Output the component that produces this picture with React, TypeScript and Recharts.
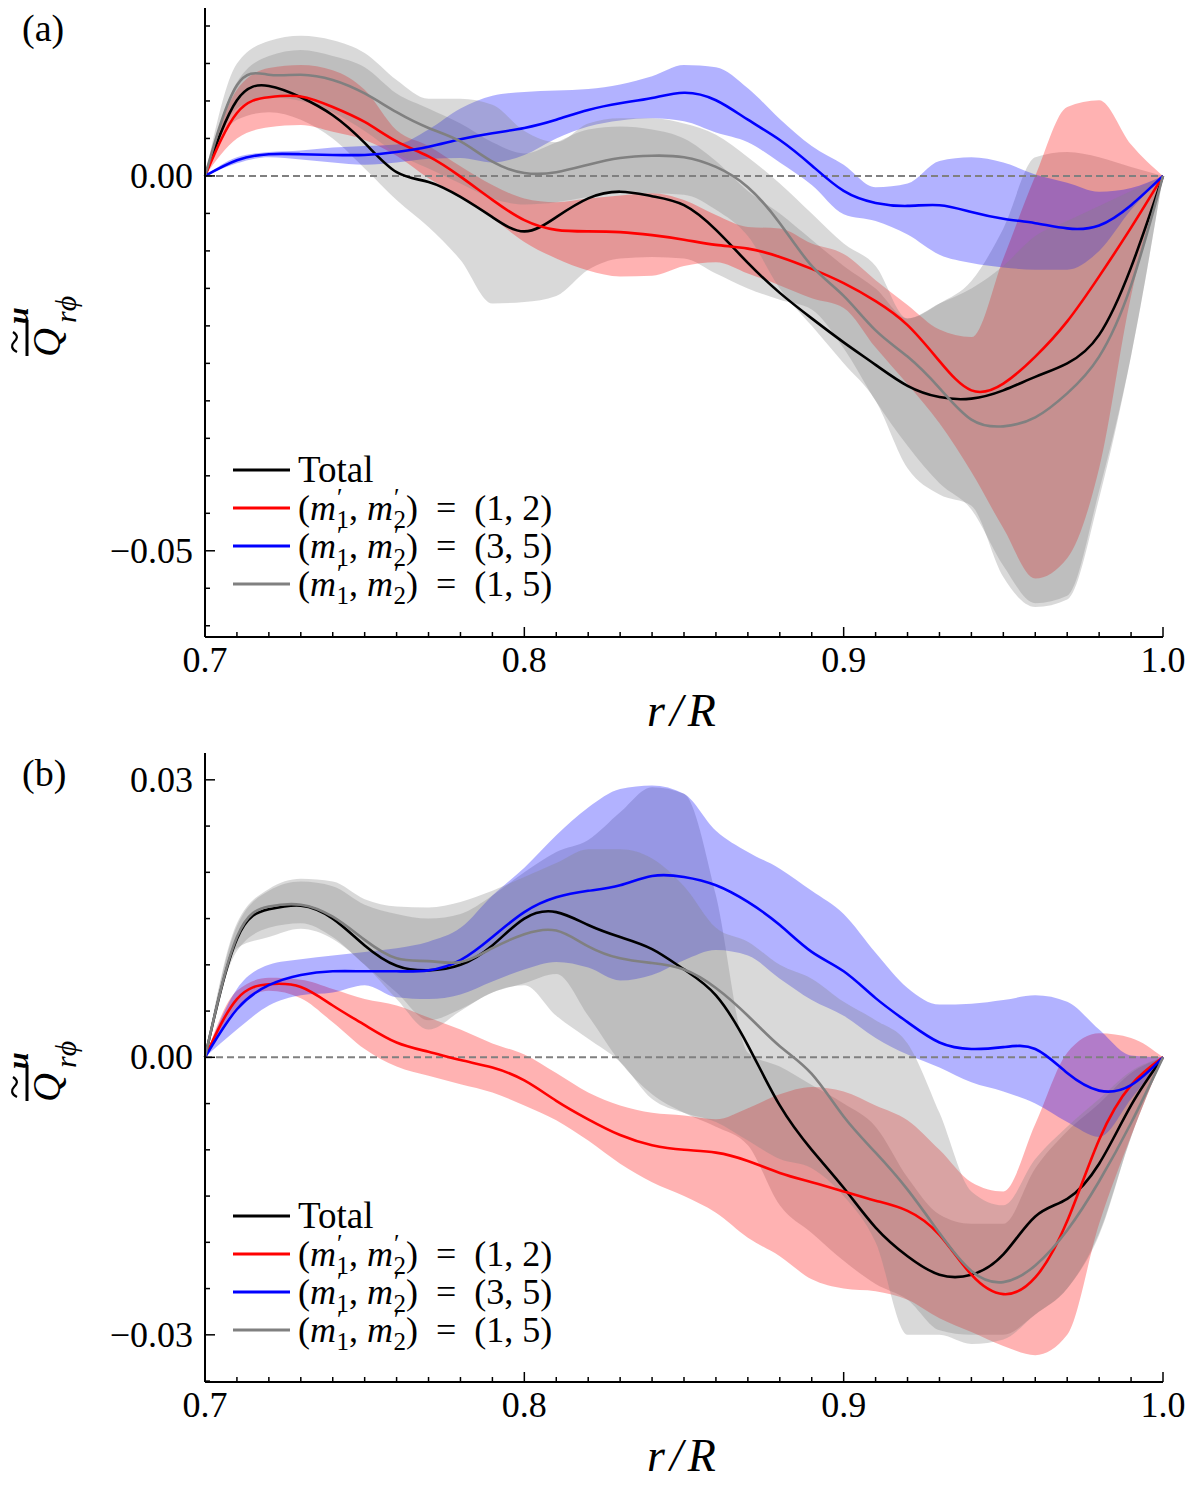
import React from 'react'
import { ComposedChart, Area, Line, XAxis, YAxis, ReferenceLine, Legend } from 'recharts'

const FONT = "'Liberation Serif', 'Times New Roman', serif"

// radius r/R, one sample every 0.01
const rValues = [
  0.7, 0.71, 0.72, 0.73, 0.74, 0.75, 0.76, 0.77, 0.78, 0.79, 0.8, 0.81, 0.82, 0.83, 0.84, 0.85,
  0.86, 0.87, 0.88, 0.89, 0.9, 0.91, 0.92, 0.93, 0.94, 0.95, 0.96, 0.97, 0.98, 0.99, 1.0,
]
const xMajor = [0.7, 0.8, 0.9, 1.0]
const xTickLabels = ['0.7', '0.8', '0.9', '1.0']

const yTicksA = [
  -0.06, -0.055, -0.05, -0.045, -0.04, -0.035, -0.03, -0.025, -0.02, -0.015, -0.01, -0.005, 0,
  0.005, 0.01, 0.015, 0.02,
]
const yMajorA = [-0.05, 0]
const yTickLabelsA = ['−0.05', '0.00']

const yTicksB = [
  -0.035, -0.03, -0.025, -0.02, -0.015, -0.01, -0.005, 0, 0.005, 0.01, 0.015, 0.02, 0.025, 0.03,
]
const yMajorB = [-0.03, 0, 0.03]
const yTickLabelsB = ['−0.03', '0.00', '0.03']

// ---- panel (a) ----
const totalA = [0, 0.0101, 0.012, 0.0105, 0.0081, 0.0044, 0.0005, -0.0008, -0.0028, -0.0055, -0.0074, -0.0055, -0.003, -0.0021, -0.0027, -0.0039, -0.0072, -0.0116, -0.0156, -0.019, -0.0222, -0.0252, -0.028, -0.0295, -0.0297, -0.0286, -0.0268, -0.025, -0.0212, -0.0122, 0]
const totalLoA = [0, 0.0075, 0.0085, 0.0075, 0.005, 0.001, -0.0032, -0.0068, -0.0112, -0.017, -0.0168, -0.016, -0.0125, -0.011, -0.0108, -0.011, -0.013, -0.015, -0.0165, -0.0178, -0.023, -0.03, -0.036, -0.041, -0.0445, -0.052, -0.057, -0.056, -0.042, -0.024, 0]
const totalHiA = [0, 0.0125, 0.016, 0.0168, 0.016, 0.0145, 0.011, 0.009, 0.007, 0.0045, 0.003, 0.0045, 0.0062, 0.0066, 0.0062, 0.005, 0.002, -0.002, -0.005, -0.0085, -0.012, -0.015, -0.019, -0.017, -0.014, -0.007, 0.0025, 0.0032, 0.0025, 0.0012, 0]

const redA = [0, 0.0084, 0.0105, 0.0106, 0.0092, 0.0072, 0.0046, 0.0026, -0.0001, -0.0032, -0.0059, -0.0072, -0.0074, -0.0075, -0.0079, -0.0085, -0.0092, -0.0097, -0.0108, -0.0124, -0.0143, -0.0167, -0.0199, -0.0247, -0.0286, -0.0277, -0.0241, -0.0194, -0.0134, -0.0069, 0]
const redLoA = [0, 0.005, 0.0065, 0.0068, 0.0059, 0.0048, 0.0027, -0.0003, -0.0027, -0.0056, -0.0088, -0.011, -0.0126, -0.0134, -0.0133, -0.012, -0.0115, -0.013, -0.0146, -0.0163, -0.0176, -0.0229, -0.0278, -0.033, -0.0395, -0.047, -0.0537, -0.051, -0.039, -0.016, 0]
const redHiA = [0, 0.0115, 0.0144, 0.0148, 0.0141, 0.0115, 0.0061, 0.004, 0.0013, -0.0012, -0.003, -0.0035, -0.003, -0.0026, -0.0023, -0.0032, -0.0052, -0.0068, -0.007, -0.009, -0.0104, -0.0139, -0.0172, -0.0205, -0.0215, -0.011, 0.0, 0.0092, 0.0101, 0.0042, 0]

const blueA = [0, 0.0021, 0.0029, 0.0029, 0.0028, 0.0028, 0.0032, 0.0039, 0.0049, 0.0057, 0.0064, 0.0075, 0.0088, 0.0097, 0.0104, 0.0111, 0.0101, 0.0075, 0.0048, 0.0014, -0.002, -0.0036, -0.004, -0.0039, -0.0048, -0.0057, -0.0063, -0.007, -0.0066, -0.0039, 0]
const blueLoA = [0, 0.0017, 0.0025, 0.0022, 0.0018, 0.0015, 0.0018, 0.0023, 0.0024, 0.0018, 0.0028, 0.005, 0.0066, 0.0074, 0.0077, 0.0073, 0.0058, 0.0045, 0.0018, -0.0012, -0.0051, -0.006, -0.0078, -0.0105, -0.0116, -0.0122, -0.0125, -0.0125, -0.01, -0.0045, 0]
const blueHiA = [0, 0.0025, 0.0032, 0.0034, 0.0038, 0.004, 0.0042, 0.0062, 0.009, 0.0107, 0.0112, 0.0114, 0.0116, 0.0122, 0.0133, 0.0148, 0.0145, 0.0117, 0.0076, 0.004, 0.0015, -0.0015, -0.001, 0.002, 0.0025, 0.0018, 0.0002, -0.0009, -0.0021, -0.0016, 0]

const grayA = [0, 0.0121, 0.0135, 0.0135, 0.0128, 0.011, 0.0085, 0.0064, 0.0046, 0.0019, 0.0004, 0.0005, 0.0015, 0.0024, 0.0027, 0.0025, 0.0012, -0.0015, -0.0063, -0.012, -0.016, -0.0206, -0.0241, -0.0283, -0.0325, -0.0334, -0.0322, -0.029, -0.0241, -0.0146, 0]
const grayLoA = [0, 0.009, 0.0105, 0.01, 0.0085, 0.006, 0.003, 0.001, -0.001, -0.003, -0.0038, -0.0035, -0.0028, -0.0023, -0.0023, -0.0025, -0.0045, -0.008, -0.015, -0.02, -0.025, -0.03, -0.039, -0.0425, -0.044, -0.0535, -0.0575, -0.0565, -0.043, -0.024, 0]
const grayHiA = [0, 0.015, 0.018, 0.0187, 0.0181, 0.0164, 0.0128, 0.0103, 0.0103, 0.0095, 0.006, 0.0045, 0.007, 0.0077, 0.0077, 0.007, 0.0055, 0.0025, -0.001, -0.005, -0.009, -0.012, -0.019, -0.017, -0.015, -0.012, -0.008, -0.006, -0.004, -0.002, 0]

// ---- panel (b) ----
const totalB = [0, 0.0128, 0.016, 0.0164, 0.015, 0.0121, 0.0099, 0.0094, 0.01, 0.0121, 0.015, 0.0157, 0.0143, 0.013, 0.0117, 0.0095, 0.0067, 0.0013, -0.0052, -0.01, -0.0141, -0.0184, -0.0215, -0.0235, -0.0235, -0.0213, -0.0172, -0.0153, -0.0115, -0.0052, 0]
const totalLoB = [0, 0.0115, 0.014, 0.0145, 0.013, 0.01, 0.007, 0.004, 0.0052, 0.007, 0.008, 0.009, 0.0045, -0.0005, -0.004, -0.006, -0.0075, -0.0095, -0.016, -0.019, -0.022, -0.0245, -0.0262, -0.0295, -0.03, -0.03, -0.0278, -0.025, -0.0192, -0.0086, 0]
const totalHiB = [0, 0.0142, 0.018, 0.019, 0.0185, 0.0165, 0.0155, 0.015, 0.0155, 0.0175, 0.02, 0.0222, 0.0235, 0.0265, 0.0292, 0.0285, 0.0175, 0.0005, -0.001, -0.003, -0.005, -0.0075, -0.013, -0.017, -0.018, -0.018, -0.012, -0.008, -0.005, -0.0017, 0]

const redB = [0, 0.0063, 0.0079, 0.0076, 0.0056, 0.0035, 0.0016, 0.0006, -0.0003, -0.0011, -0.0025, -0.0047, -0.0067, -0.0084, -0.0095, -0.01, -0.0103, -0.0112, -0.0125, -0.0135, -0.0145, -0.0155, -0.0166, -0.0192, -0.0235, -0.0256, -0.0238, -0.0177, -0.0089, -0.003, 0]
const redLoB = [0, 0.0054, 0.0072, 0.0064, 0.0038, 0.0009, -0.001, -0.002, -0.0029, -0.0038, -0.0052, -0.0068, -0.009, -0.0115, -0.0135, -0.015, -0.0168, -0.0195, -0.0215, -0.024, -0.025, -0.0253, -0.0262, -0.0282, -0.0297, -0.0312, -0.0322, -0.03, -0.018, -0.0085, 0]
const redHiB = [0, 0.0072, 0.0086, 0.0084, 0.0074, 0.0063, 0.0056, 0.0043, 0.003, 0.0015, 0.0003, -0.0017, -0.0038, -0.0052, -0.006, -0.0063, -0.0067, -0.0055, -0.004, -0.0032, -0.0037, -0.0052, -0.0068, -0.01, -0.0135, -0.0145, -0.0072, 0.0005, 0.0026, 0.0021, 0]

const blueB = [0, 0.0052, 0.0078, 0.0089, 0.0093, 0.0093, 0.0093, 0.0094, 0.0105, 0.013, 0.0157, 0.0173, 0.018, 0.0186, 0.0196, 0.0195, 0.0186, 0.0168, 0.0143, 0.0114, 0.0093, 0.0064, 0.0038, 0.0016, 0.0009, 0.0011, 0.0009, -0.0017, -0.0036, -0.003, 0]
const blueLoB = [0, 0.003, 0.0056, 0.0067, 0.007, 0.0078, 0.0065, 0.0063, 0.0068, 0.0082, 0.0095, 0.0103, 0.0097, 0.0083, 0.0089, 0.0105, 0.0116, 0.011, 0.0085, 0.0062, 0.0045, 0.0021, 0.0003, -0.0011, -0.0027, -0.0037, -0.005, -0.007, -0.0086, -0.0045, 0]
const blueHiB = [0, 0.0074, 0.01, 0.0106, 0.011, 0.0114, 0.0118, 0.0125, 0.014, 0.0175, 0.0205, 0.024, 0.027, 0.029, 0.0294, 0.0285, 0.0245, 0.0222, 0.0204, 0.018, 0.0155, 0.0113, 0.0075, 0.0057, 0.0058, 0.0062, 0.0067, 0.006, 0.003, 0.0002, 0]

const grayB = [0, 0.013, 0.0163, 0.0165, 0.0152, 0.0127, 0.0107, 0.0104, 0.0103, 0.0118, 0.0133, 0.0137, 0.012, 0.0107, 0.0102, 0.0095, 0.0075, 0.0045, 0.0012, -0.0018, -0.0064, -0.0103, -0.0143, -0.019, -0.0231, -0.0243, -0.0225, -0.0187, -0.0134, -0.0071, 0]
const grayLoB = [0, 0.0118, 0.013, 0.0139, 0.0128, 0.01, 0.0063, 0.003, 0.005, 0.007, 0.0078, 0.0045, 0.002, -0.0005, -0.0045, -0.006, -0.007, -0.009, -0.011, -0.012, -0.015, -0.02, -0.03, -0.03, -0.031, -0.0305, -0.0278, -0.025, -0.019, -0.0086, 0]
const grayHiB = [0, 0.0145, 0.0182, 0.0193, 0.019, 0.0171, 0.0163, 0.0162, 0.0168, 0.018, 0.0195, 0.021, 0.0225, 0.0225, 0.0215, 0.0185, 0.014, 0.0125, 0.01, 0.0085, 0.006, 0.004, 0.0015, -0.006, -0.0145, -0.016, -0.011, -0.0075, -0.0045, -0.0015, 0]

const seriesOrder = ['total', 'm12', 'm35', 'm15']
const seriesColor: Record<string, string> = {
  total: '#000000',
  m12: '#ff0000',
  m35: '#0000ff',
  m15: '#808080',
}
const seriesPair: Record<string, [string, string] | null> = {
  total: null,
  m12: ['1', '2'],
  m35: ['3', '5'],
  m15: ['1', '5'],
}

type Row = Record<string, number | number[]>

function buildRows(
  total: number[], totalLo: number[], totalHi: number[],
  red: number[], redLo: number[], redHi: number[],
  blue: number[], blueLo: number[], blueHi: number[],
  gray: number[], grayLo: number[], grayHi: number[],
): Row[] {
  return rValues.map((r, i) => ({
    r,
    total: total[i],
    totalBand: [totalLo[i], totalHi[i]],
    m12: red[i],
    m12Band: [redLo[i], redHi[i]],
    m35: blue[i],
    m35Band: [blueLo[i], blueHi[i]],
    m15: gray[i],
    m15Band: [grayLo[i], grayHi[i]],
  }))
}

const rowsA = buildRows(totalA, totalLoA, totalHiA, redA, redLoA, redHiA, blueA, blueLoA, blueHiA, grayA, grayLoA, grayHiA)
const rowsB = buildRows(totalB, totalLoB, totalHiB, redB, redLoB, redHiB, blueB, blueLoB, blueHiB, grayB, grayLoB, grayHiB)

const majorIndex = (v: number, majors: number[]) => majors.findIndex((m) => Math.abs(m - v) < 1e-9)

function makeTick(side: 'bottom' | 'top' | 'left' | 'right', majors: number[], labels?: string[]) {
  return (props: any) => {
    const { x, y, payload } = props
    const i = majorIndex(payload.value, majors)
    const len = i >= 0 ? 10 : 5
    let l = { x1: x, x2: x, y1: y, y2: y - len }
    if (side === 'top') l = { x1: x, x2: x, y1: y, y2: y + len }
    if (side === 'left') l = { x1: x, x2: x + len, y1: y, y2: y }
    if (side === 'right') l = { x1: x, x2: x - len, y1: y, y2: y }
    return (
      <g>
        <line {...l} stroke="#000" strokeWidth={1.5} />
        {labels && i >= 0 && side === 'bottom' && (
          <text x={x} y={y + 35} textAnchor="middle" fontSize={36} fontFamily={FONT} fill="#000">
            {labels[i]}
          </text>
        )}
        {labels && i >= 0 && side === 'left' && (
          <text x={x - 12} y={y} dy="0.33em" textAnchor="end" fontSize={36} fontFamily={FONT} fill="#000">
            {labels[i]}
          </text>
        )}
      </g>
    )
  }
}

// (m'_1, m'_2) = (a, b) as one svg text
function PairText({ x, y, a, b }: { x: number; y: number; a: string; b: string }) {
  return (
    <text x={x} y={y} fontSize={36} fontFamily={FONT} fill="#000">
      (<tspan fontStyle="italic">m</tspan>
      <tspan fontSize={25} dx={1} dy={-14}>′</tspan>
      <tspan fontSize={25} dx={-6} dy={22}>1</tspan>
      <tspan dy={-8}>, </tspan>
      <tspan fontStyle="italic">m</tspan>
      <tspan fontSize={25} dx={1} dy={-14}>′</tspan>
      <tspan fontSize={25} dx={-6} dy={22}>2</tspan>
      <tspan dy={-8}>{`)\u00A0\u00A0=\u00A0\u00A0(${a}, ${b})`}</tspan>
    </text>
  )
}

function LegendBox(props: any) {
  const items = [...(props.payload || [])]
    .filter((p: any) => seriesOrder.includes(p.dataKey))
    .sort((p: any, q: any) => seriesOrder.indexOf(p.dataKey) - seriesOrder.indexOf(q.dataKey))
  return (
    <svg width={340} height={160} style={{ display: 'block', overflow: 'visible' }}>
      {items.map((p: any, i: number) => {
        const cy = 19 + i * 38
        const pair = seriesPair[p.dataKey]
        return (
          <g key={p.dataKey}>
            <line x1={0} x2={57} y1={cy} y2={cy} stroke={seriesColor[p.dataKey]} strokeWidth={3} />
            {pair ? (
              <PairText x={65} y={cy + 12} a={pair[0]} b={pair[1]} />
            ) : (
              <text x={65} y={cy + 12} fontSize={37} fontFamily={FONT} fill="#000">Total</text>
            )}
          </g>
        )
      })}
    </svg>
  )
}

type PanelProps = {
  rows: Row[]
  height: number
  top: number
  bottom: number
  yDomain: [number, number]
  yTicks: number[]
  yMajor: number[]
  yLabels: string[]
  legendTop: number
}

function Panel({ rows, height, top, bottom, yDomain, yTicks, yMajor, yLabels, legendTop }: PanelProps) {
  return (
    <ComposedChart width={1200} height={height} data={rows} margin={{ top, right: 37, bottom: 0, left: 0 }}>
      <XAxis
        dataKey="r"
        type="number"
        domain={[0.7, 1.0]}
        ticks={rValues}
        interval={0}
        height={bottom}
        tickSize={0}
        tickMargin={0}
        tickLine={false}
        axisLine={{ stroke: '#000', strokeWidth: 2 }}
        tick={makeTick('bottom', xMajor, xTickLabels)}
      />
      <XAxis
        xAxisId="top"
        orientation="top"
        dataKey="r"
        type="number"
        domain={[0.7, 1.0]}
        ticks={rValues}
        interval={0}
        height={0}
        tickSize={0}
        tickMargin={0}
        tickLine={false}
        axisLine={{ stroke: '#000', strokeWidth: 2 }}
        tick={makeTick('top', xMajor)}
      />
      <YAxis
        type="number"
        domain={yDomain}
        allowDataOverflow
        ticks={yTicks}
        interval={0}
        width={205}
        tickSize={0}
        tickMargin={0}
        tickLine={false}
        axisLine={{ stroke: '#000', strokeWidth: 2 }}
        tick={makeTick('left', yMajor, yLabels)}
      />
      <YAxis
        yAxisId="right"
        orientation="right"
        type="number"
        domain={yDomain}
        allowDataOverflow
        ticks={yTicks}
        interval={0}
        width={0}
        tickSize={0}
        tickMargin={0}
        tickLine={false}
        axisLine={{ stroke: '#000', strokeWidth: 2 }}
        tick={makeTick('right', yMajor)}
      />
      <Area dataKey="totalBand" type="monotone" stroke="none" fill="#808080" fillOpacity={0.3} legendType="none" isAnimationActive={false} />
      <Area dataKey="m12Band" type="monotone" stroke="none" fill="#ff0000" fillOpacity={0.3} legendType="none" isAnimationActive={false} />
      <Area dataKey="m35Band" type="monotone" stroke="none" fill="#0000ff" fillOpacity={0.3} legendType="none" isAnimationActive={false} />
      <Area dataKey="m15Band" type="monotone" stroke="none" fill="#808080" fillOpacity={0.3} legendType="none" isAnimationActive={false} />
      <ReferenceLine y={0} stroke="#808080" strokeWidth={2} strokeDasharray="7 4" />
      {seriesOrder.map((k) => (
        <Line
          key={k}
          dataKey={k}
          name={k}
          type="natural"
          stroke={seriesColor[k]}
          strokeWidth={2.6}
          dot={false}
          activeDot={false}
          isAnimationActive={false}
        />
      ))}
      <Legend
        layout="vertical"
        align="center"
        verticalAlign="middle"
        content={<LegendBox />}
        wrapperStyle={{ left: 233, top: legendTop, width: 'auto', height: 'auto' }}
      />
    </ComposedChart>
  )
}

// rotated y label: bar and ~u over Q, subscript r phi
function YLabel({ x, y }: { x: number; y: number }) {
  return (
    <g transform={`translate(${x},${y}) rotate(-90)`} fontFamily={FONT} fill="#000">
      <line x1={1} x2={37} y1={-33} y2={-33} stroke="#000" strokeWidth={3} />
      <text x={0} y={0} fontSize={40} fontStyle="italic">Q</text>
      <text x={34} y={16} fontSize={30} fontStyle="italic">rϕ</text>
      <path d="M5,-43 C8,-49 12,-49 15,-46 S21,-41 25,-47" fill="none" stroke="#000" strokeWidth={2.2} />
      <text x={33} y={-32} fontSize={30} fontWeight="bold" fontStyle="italic">u</text>
    </g>
  )
}

export default function App() {
  return (
    <div style={{ position: 'absolute', left: 0, top: 0, width: 1200, height: 1487, background: '#fff' }}>
      <div style={{ position: 'absolute', left: 0, top: 0 }}>
        <Panel
          rows={rowsA}
          height={700}
          top={8}
          bottom={63}
          yDomain={[-0.0615, 0.0224]}
          yTicks={yTicksA}
          yMajor={yMajorA}
          yLabels={yTickLabelsA}
          legendTop={451}
        />
      </div>
      <div style={{ position: 'absolute', left: 0, top: 700 }}>
        <Panel
          rows={rowsB}
          height={750}
          top={53}
          bottom={68}
          yDomain={[-0.0351, 0.0329]}
          yTicks={yTicksB}
          yMajor={yMajorB}
          yLabels={yTickLabelsB}
          legendTop={497}
        />
      </div>
      <svg
        width={1200}
        height={1487}
        style={{ position: 'absolute', left: 0, top: 0, pointerEvents: 'none' }}
      >
        <text x={22} y={41} fontSize={38} fontFamily={FONT}>(a)</text>
        <text x={22} y={786} fontSize={38} fontFamily={FONT}>(b)</text>
        <YLabel x={60} y={357} />
        <YLabel x={60} y={1102} />
        <text x={684} y={726} fontSize={46} fontStyle="italic" fontFamily={FONT} textAnchor="middle" letterSpacing={5}>
          r/R
        </text>
        <text x={684} y={1471} fontSize={46} fontStyle="italic" fontFamily={FONT} textAnchor="middle" letterSpacing={5}>
          r/R
        </text>
      </svg>
    </div>
  )
}
